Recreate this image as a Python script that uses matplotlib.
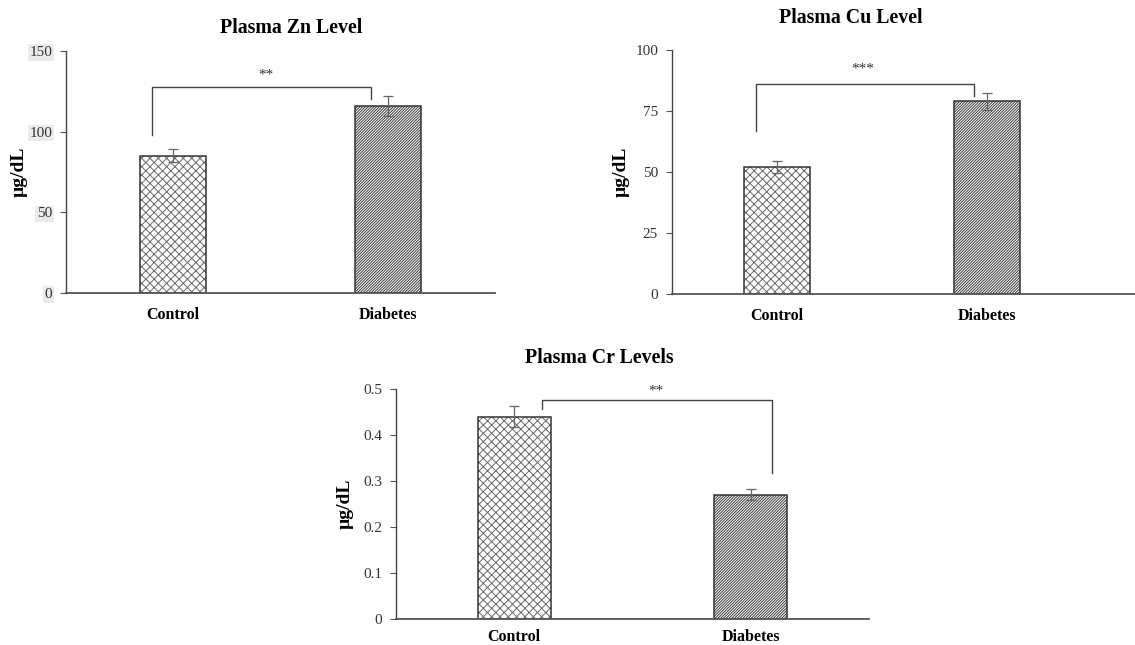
import numpy as np
import matplotlib
matplotlib.use("Agg")
import matplotlib.pyplot as plt

plt.rcParams['font.family'] = ['Liberation Serif', 'DejaVu Serif']
plt.rcParams['hatch.linewidth'] = 0.7

groups = ['Control', 'Diabetes']

zn_mean = [85, 116]
zn_err = [4, 6]
cu_mean = [52, 79]
cu_err = [2.5, 3.5]
cr_mean = [0.44, 0.27]
cr_err = [0.022, 0.012]

zn_ticks = [0, 50, 100, 150]
cu_ticks = [0, 25, 50, 75, 100]
cr_ticks = [0, 0.1, 0.2, 0.3, 0.4, 0.5]
cr_ticklabels = ['0', '0.1', '0.2', '0.3', '0.4', '0.5']

fig = plt.figure(figsize=(11.35, 6.45), dpi=100)


def panel(rect, means, errs, ticks, xright, title, title_xy, labelx, xpad=10):
    ax = fig.add_axes(rect)
    x = np.arange(len(groups))
    hatches = ['xxxx', '////////////']
    hcols = ['#6a6a6a', '#3a3a3a']
    for i in x:
        ax.bar(x[i], means[i], width=0.31, color='white', edgecolor=hcols[i],
               hatch=hatches[i], linewidth=0)
        ax.bar(x[i], means[i], width=0.31, color='none', edgecolor='#333333',
               linewidth=1.1)
    ax.errorbar(x, means, yerr=errs, fmt='none', ecolor='#666666',
                elinewidth=0.9, capsize=3.5, capthick=0.9)
    ax.set_xlim(-0.5, xright)
    ax.set_ylim(ticks[0], ticks[-1])
    ax.set_yticks(ticks)
    ax.set_xticks(x)
    ax.set_xticklabels(groups, fontsize=11.5, fontweight='bold')
    ax.tick_params(axis='x', length=0, pad=xpad)
    ax.tick_params(axis='y', direction='out', length=4, width=0.8,
                   color='#555555', labelsize=11, labelcolor='#333333', pad=6)
    for s in ['top', 'right']:
        ax.spines[s].set_visible(False)
    ax.spines['left'].set_color('#444444')
    ax.spines['bottom'].set_color('#555555')
    ax.spines['left'].set_linewidth(1.0)
    ax.spines['bottom'].set_linewidth(1.3)
    ax.set_ylabel('µg/dL', fontsize=14, fontweight='bold')
    ax.yaxis.set_label_coords(labelx, 0.5)
    fig.text(title_xy[0] / 1135, 1 - title_xy[1] / 645, title, ha='center',
             va='center', fontsize=14.3, fontweight='bold')
    return ax


def bracket(ax, x0, x1, y0, ytop, y1, stars, sx, sy):
    ax.plot([x0, x0, x1, x1], [y0, ytop, ytop, y1], color='#444444',
            lw=1.0, clip_on=False)
    ax.text(sx, sy, stars, ha='center', va='center', fontsize=11,
            color='#333333')


ax1 = panel([66 / 1135, 1 - 293 / 645, 429 / 1135, 242 / 645], zn_mean, zn_err,
            zn_ticks, 1.5, 'Plasma Zn Level', (291, 28), -0.089)
for lab in ax1.get_yticklabels():
    lab.set_bbox(dict(facecolor='#ebebeb', edgecolor='none', pad=1.2))
bracket(ax1, -0.1, 0.92, 98, 127.5, 120, '**', 0.43, 135)

ax2 = panel([672 / 1135, 1 - 294 / 645, 463 / 1135, 244 / 645], cu_mean, cu_err,
            cu_ticks, 1.705, 'Plasma Cu Level', (851, 18), -0.091)
bracket(ax2, -0.1, 0.94, 67, 86, 81, '***', 0.41, 92)

ax3 = panel([396 / 1135, 1 - 619 / 645, 473 / 1135, 230 / 645], cr_mean, cr_err,
            cr_ticks, 1.5, 'Plasma Cr Levels', (599, 358), -0.089, xpad=7)
ax3.set_yticklabels(cr_ticklabels)
bracket(ax3, 0.117, 1.09, 0.457, 0.476, 0.317, '**', 0.6, 0.495)

fig.savefig('out.png', dpi=100)
